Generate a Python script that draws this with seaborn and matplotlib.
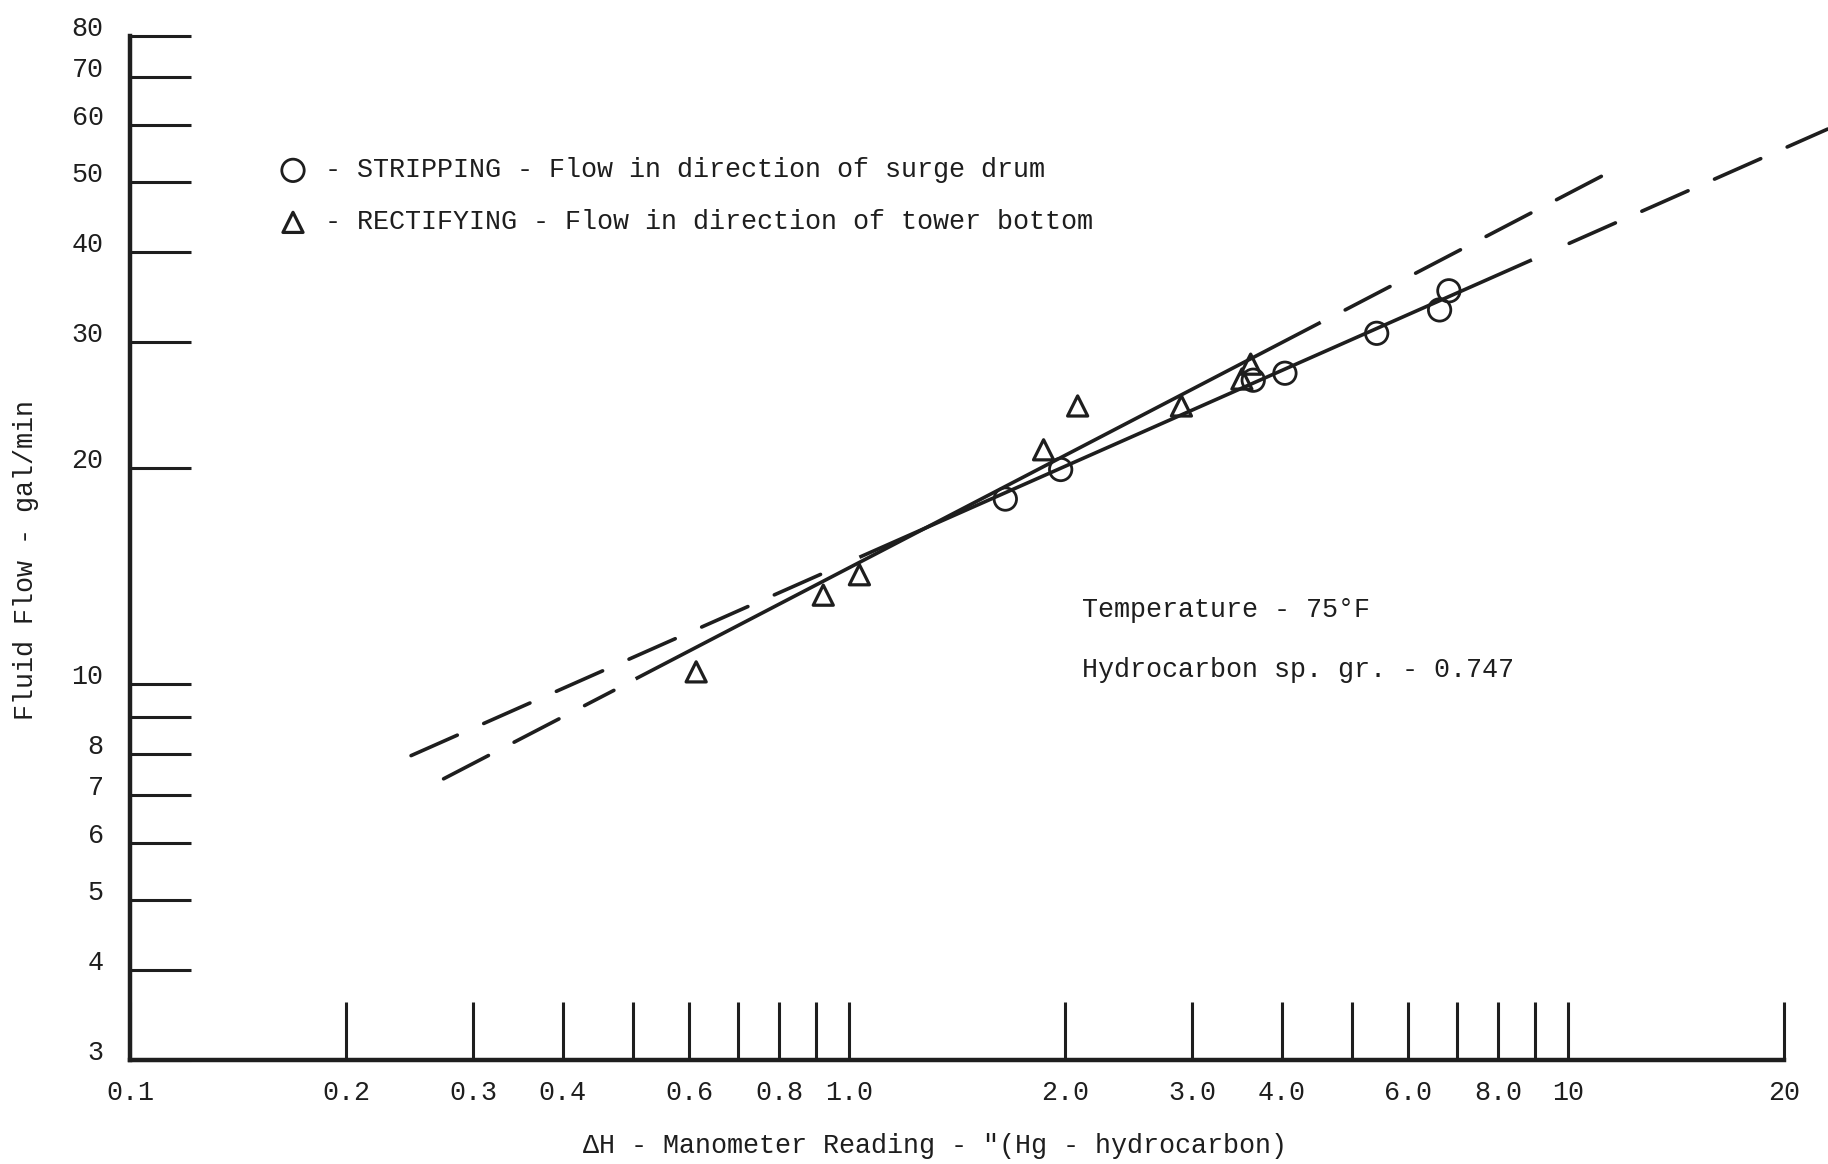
import matplotlib
matplotlib.use("Agg")
import matplotlib.pyplot as plt
from matplotlib.ticker import NullLocator
import pandas as pd
import seaborn as sns

# ---------------- data ----------------
# Stripping (circles): manometer reading dH ["Hg - hydrocarbon] vs flow [gal/min]
strip_dh = [1.65, 1.97, 3.65, 4.04, 5.42, 6.63, 6.83]
strip_flow = [18.1, 19.9, 26.5, 27.1, 30.8, 33.2, 35.3]
# Rectifying (triangles)
rect_dh = [0.613, 0.921, 1.034, 1.865, 2.08, 2.90, 3.52, 3.62]
rect_flow = [10.4, 13.3, 14.2, 21.2, 24.4, 24.4, 26.6, 27.9]

# Drawn correlation lines (segment end points)
rect_line_dash_lo_dh = [0.273, 0.471]
rect_line_dash_lo_flow = [7.38, 9.80]
rect_line_solid_dh = [0.505, 4.53]
rect_line_solid_flow = [10.17, 31.9]
rect_line_dash_hi_dh = [4.90, 11.19]
rect_line_dash_hi_flow = [33.2, 51.1]

strip_line_dash_lo_dh = [0.246, 0.9385]
strip_line_dash_lo_flow = [7.95, 14.39]
strip_line_solid_dh = [1.034, 8.91]
strip_line_solid_flow = [15.02, 38.98]
strip_line_dash_hi_dh = [10.04, 22.98]
strip_line_dash_hi_flow = [41.1, 59.3]

x_ticks = [0.1, 0.2, 0.3, 0.4, 0.5, 0.6, 0.7, 0.8, 0.9, 1.0,
           2.0, 3.0, 4.0, 5.0, 6.0, 7.0, 8.0, 9.0, 10, 20]
x_tick_labels = ["0.1", "0.2", "0.3", "0.4", "", "0.6", "", "0.8", "", "1.0",
                 "2.0", "3.0", "4.0", "", "6.0", "", "8.0", "", "10", "20"]
y_ticks = [3, 4, 5, 6, 7, 8, 9, 10, 20, 30, 40, 50, 60, 70, 80]
y_tick_labels = ["3", "4", "5", "6", "7", "8", "", "10", "20", "30", "40",
                 "50", "60", "70", "80"]

legend_strip = "- STRIPPING - Flow in direction of surge drum"
legend_rect = "- RECTIFYING - Flow in direction of tower bottom"
note_temp = "Temperature - 75°F"
note_sg = "Hydrocarbon sp. gr. - 0.747"
x_title = 'ΔH - Manometer Reading - "(Hg - hydrocarbon)'
y_title = "Fluid Flow - gal/min"

# ---------------- styling ----------------
sns.set_style("white")
plt.rcParams["font.family"] = ["Liberation Mono", "DejaVu Sans Mono"]
INK = "#1e1e1e"
FS = 19.3
plt.rcParams["text.color"] = INK
plt.rcParams["axes.labelcolor"] = INK
plt.rcParams["xtick.color"] = INK
plt.rcParams["ytick.color"] = INK

W, H = 1828, 1164
fig = plt.figure(figsize=(W / 100, H / 100), dpi=100)
ax_left, ax_bottom_px = 130, 1164 - 1059.5
ax = fig.add_axes([ax_left / W, ax_bottom_px / H, 1 - ax_left / W, 1059.5 / H])
ax.set_facecolor("white")
ax.set_xscale("log")
ax.set_yscale("log")
ax.set_xlim(0.1, 23.0)
ax.set_ylim(3, 89.7)

# ---------------- lines ----------------
LW = 2.6
DASH = (0, (14.0, 8.0))


def seg(xs, ys, ls):
    d = pd.DataFrame({"dh": xs, "flow": ys})
    sns.lineplot(data=d, x="dh", y="flow", ax=ax, color=INK, linewidth=LW,
                 linestyle=ls, estimator=None, sort=False, legend=False,
                 solid_capstyle="butt", dash_capstyle="round")


seg(rect_line_dash_lo_dh, rect_line_dash_lo_flow, DASH)
seg(rect_line_solid_dh, rect_line_solid_flow, "-")
seg(rect_line_dash_hi_dh, rect_line_dash_hi_flow, DASH)
seg(strip_line_dash_lo_dh, strip_line_dash_lo_flow, DASH)
seg(strip_line_solid_dh, strip_line_solid_flow, "-")
seg(strip_line_dash_hi_dh, strip_line_dash_hi_flow, DASH)

# ---------------- points ----------------
strip_df = pd.DataFrame({"dh": strip_dh, "flow": strip_flow})
rect_df = pd.DataFrame({"dh": rect_dh, "flow": rect_flow})
sns.scatterplot(data=strip_df, x="dh", y="flow", ax=ax, marker="o", s=260,
                facecolors="none", edgecolor=INK, linewidth=2.0,
                label=legend_strip, legend=False, zorder=5)
sns.scatterplot(data=rect_df, x="dh", y="flow", ax=ax, marker="^", s=210,
                facecolors="none", edgecolor=INK, linewidth=2.3,
                label=legend_rect, legend=False, zorder=5)

# ---------------- axes / ticks ----------------
for side in ["top", "right"]:
    ax.spines[side].set_visible(False)
for side in ["left", "bottom"]:
    ax.spines[side].set_linewidth(3.2)
    ax.spines[side].set_color(INK)
ax.spines["left"].set_bounds(3, 80)
ax.spines["bottom"].set_bounds(0.1, 20)

ax.xaxis.set_minor_locator(NullLocator())
ax.yaxis.set_minor_locator(NullLocator())
ax.set_xticks(x_ticks, labels=x_tick_labels)
ax.set_yticks(y_ticks, labels=y_tick_labels, va="baseline")
ax.tick_params(axis="x", bottom=True, top=False, direction="in",
               length=41.8, width=2.2, pad=15, labelsize=FS)
ax.tick_params(axis="y", left=True, right=False, direction="in",
               length=44, width=2.2, pad=19, labelsize=FS)
ax.grid(False)

ax.set_xlabel(x_title, fontsize=FS)
ax.xaxis.label.set_va("center")
ax.xaxis.set_label_coords((935 - 130) / 1698, -(1146 - 1059.5) / 1059.5)
ax.set_ylabel(y_title, fontsize=FS)
ax.yaxis.label.set_va("center")
ax.yaxis.set_label_coords((25.6 - 130) / 1698, (1059.5 - 559.6) / 1059.5)

# ---------------- legend ----------------
handles, labels = ax.get_legend_handles_labels()
ax.legend(handles, labels, loc="center left",
          bbox_to_anchor=(279.6 / W, 1 - 196.4 / H),
          bbox_transform=fig.transFigure, frameon=False, fontsize=FS,
          handlelength=1.0, handletextpad=0.7, labelspacing=0.97,
          borderpad=0, borderaxespad=0, scatterpoints=1)

# ---------------- notes ----------------
fig.text(1082 / W, 1 - 609.7 / H, note_temp, fontsize=FS, va="center",
         ha="left", color=INK)
fig.text(1082 / W, 1 - 670.3 / H, note_sg, fontsize=FS, va="center",
         ha="left", color=INK)

fig.savefig("out.png", dpi=100, facecolor="white")
